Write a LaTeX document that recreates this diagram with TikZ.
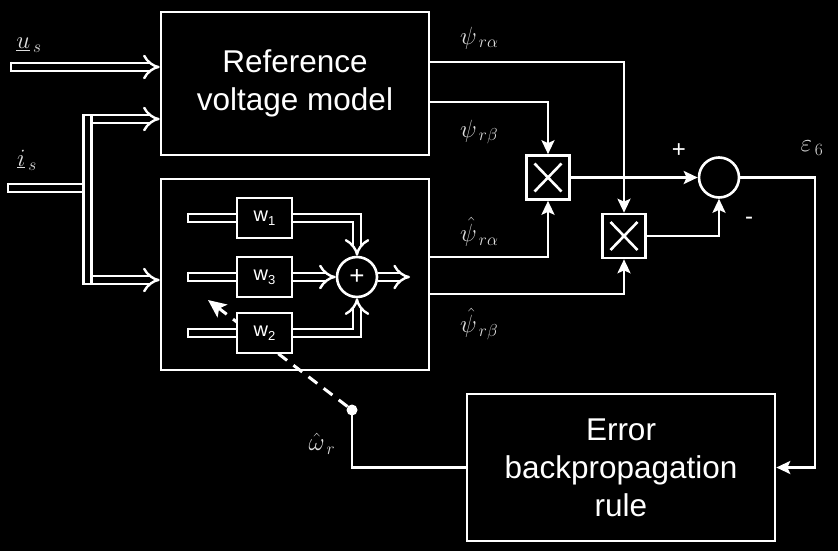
\documentclass[tikz,border=0pt]{standalone}
\usepackage{fontspec}
\setmainfont{Liberation Sans}
\usetikzlibrary{arrows.meta,calc}
\pgfdeclarelayer{back}
\pgfdeclarelayer{bg}
\pgfsetlayers{back,bg,main}
\definecolor{lbl}{RGB}{222,222,222}
\tikzset{
 box/.style={draw=white, fill=black, line width=2.6pt, inner sep=0pt, text=white},
 ln/.style={draw=white, line width=2.6pt},
 sarr/.style={ln, -{Stealth[length=14pt,width=13pt,inset=3pt]}},
 dbl/.style={draw=white, double=black, double distance=6pt, line width=2.4pt},
 dblarr/.style={dbl, -{Implies}},
 capwall/.style={draw=white, line width=2.4pt},
 mlbl/.style={text=lbl, inner sep=0pt, font=\fontsize{26}{30}\selectfont},
 bigtxt/.style={font=\fontsize{31.5}{38}\selectfont, align=center},
 wbox/.style={box, minimum width=55pt, minimum height=40pt, font=\fontsize{20}{20}\selectfont},
 mult/.style={box, minimum width=43pt, minimum height=44pt,
   path picture={
     \draw[white, line width=2.6pt] ([shift={(8pt,-8pt)}]path picture bounding box.north west) -- ([shift={(-8pt,8pt)}]path picture bounding box.south east);
     \draw[white, line width=2.6pt] ([shift={(8pt,8pt)}]path picture bounding box.south west) -- ([shift={(-8pt,-8pt)}]path picture bounding box.north east);}},
 sumc/.style={draw=white, line width=2.6pt, circle, minimum size=40pt, inner sep=0pt, fill=black, text=white},
}
\newcommand{\wsub}[1]{w\raisebox{-4pt}{\fontsize{13}{13}\selectfont #1}}
\begin{document}
\begin{tikzpicture}[x=1pt,y=-1pt]
\begin{pgfonlayer}{back}
\fill[black] (0,0) rectangle (838,551);
\end{pgfonlayer}
\useasboundingbox (0,0) rectangle (838,551);

% main blocks
\node[box, minimum width=268pt, minimum height=143pt, bigtxt, fill=none] (ref) at (295,83.5) {Reference\\voltage model};
\node[box, minimum width=268pt, minimum height=191pt, fill=none] (nn) at (295,274.5) {};
\node[box, minimum width=308pt, minimum height=147pt, bigtxt, fill=none] (err) at (621,467.5) {Error\\backpropagation\\rule};

% inner neural block
\node[wbox] (w1) at (264.5,218) {\wsub{1}};
\node[wbox] (w3) at (264.5,277) {\wsub{3}};
\node[wbox] (w2) at (264.5,333) {\wsub{2}};
\node[sumc, font=\fontsize{26}{26}\selectfont] (s1) at (357,277) {+};
\coordinate (s1out) at (410,277);
\coordinate (win1) at (187,218);
\coordinate (win3) at (187,277);
\coordinate (win2) at (187,333);

% multipliers and summation
\node[mult] (m1) at (548,177.5) {};
\node[mult] (m2) at (624,236) {};
\node[sumc] (s2) at (719,177.5) {};
\coordinate (c1) at (815,177.5);

% speed tap
\node[circle, fill=white, minimum size=11pt, inner sep=0pt] (dot) at (352,410) {};
\coordinate (dtip) at (208,300);

% inputs
\coordinate (us0) at (10,67);
\coordinate (is0) at (7,188);
\node[draw=white, fill=black, line width=2.4pt, minimum width=8pt, minimum height=169pt, inner sep=0pt] (bar) at (87.5,199.5) {};
\coordinate (bt) at (91,119);
\coordinate (bb) at (91,280);

\begin{pgfonlayer}{bg}
 % input double lines
 \draw[dblarr] (us0) -- (us0 -| ref.west);
 \draw[dbl] (is0) -- (is0 -| bar.center);
 \draw[dblarr] (bt) -- (bt -| ref.west);
 \draw[dblarr] (bb) -- (bb -| nn.west);
 % inner block
 \draw[dbl] (win1) -- (w1.west);
 \draw[dbl] (win3) -- (w3.west);
 \draw[dbl] (win2) -- (w2.west);
 \draw[dblarr] (w1.east) -| (s1.north);
 \draw[dblarr] (w3.east) -- (s1.west);
 \draw[dblarr] (w2.east) -| (s1.south);
 \draw[dblarr] (s1.east) -- (s1out);
 % dashed adaptation arrow
 \draw[draw=white, line width=3pt, dash pattern=on 11pt off 8pt, -{Stealth[length=18pt,width=16pt,inset=4pt]}] (dot) -- (dtip);
\end{pgfonlayer}

% closed ends of double lines
\draw[capwall] ([shift={(1.2pt,5.4pt)}]us0) -- ([shift={(1.2pt,-5.4pt)}]us0);
\draw[capwall] ([shift={(1.2pt,5.4pt)}]is0) -- ([shift={(1.2pt,-5.4pt)}]is0);
\draw[capwall] ([shift={(1.2pt,5.4pt)}]win1) -- ([shift={(1.2pt,-5.4pt)}]win1);
\draw[capwall] ([shift={(1.2pt,5.4pt)}]win3) -- ([shift={(1.2pt,-5.4pt)}]win3);
\draw[capwall] ([shift={(1.2pt,5.4pt)}]win2) -- ([shift={(1.2pt,-5.4pt)}]win2);

% single connectors
\draw[sarr] ([yshift=21.5pt]ref.east) -| (m2.north);
\draw[sarr] ([yshift=-18.5pt]ref.east) -| (m1.north);
\draw[sarr] ([yshift=17.5pt]nn.east) -| (m1.south);
\draw[sarr] ([yshift=-19.5pt]nn.east) -| (m2.south);
\draw[sarr] (m1.east) -- (s2.west);
\draw[sarr] (m2.east) -| (s2.south);
\draw[sarr] (s2.east) -- (c1) |- (err.east);
\draw[ln] (err.west) -| (dot.center);

% labels
\node[mlbl, anchor=center] (lus) at (29,45) {$\underline{u}_{\,s}$};
\node[mlbl, anchor=center] (lis) at (27,160) {$\underline{i}_{\,s}$};
\node[mlbl, anchor=west] (lpa) at (460,38) {$\psi_{\,r\alpha}$};
\node[mlbl, anchor=west] (lpb) at (460,132) {$\psi_{\,r\beta}$};
\node[mlbl, anchor=west] (lhpa) at (460,232) {$\hat{\psi}_{\,r\alpha}$};
\node[mlbl, anchor=west] (lhpb) at (460,324) {$\hat{\psi}_{\,r\beta}$};
\node[mlbl, anchor=center] (leps) at (812,148) {$\varepsilon_{\,6}$};
\node[mlbl, anchor=center] (lom) at (322,444) {$\hat{\omega}_{\,r}$};
\node[text=white, font=\fontsize{24}{24}\selectfont] (lplus) at (679,151) {+};
\node[text=white, font=\fontsize{24}{24}\selectfont] (lminus) at (749,221) {-};
\end{tikzpicture}
\end{document}
